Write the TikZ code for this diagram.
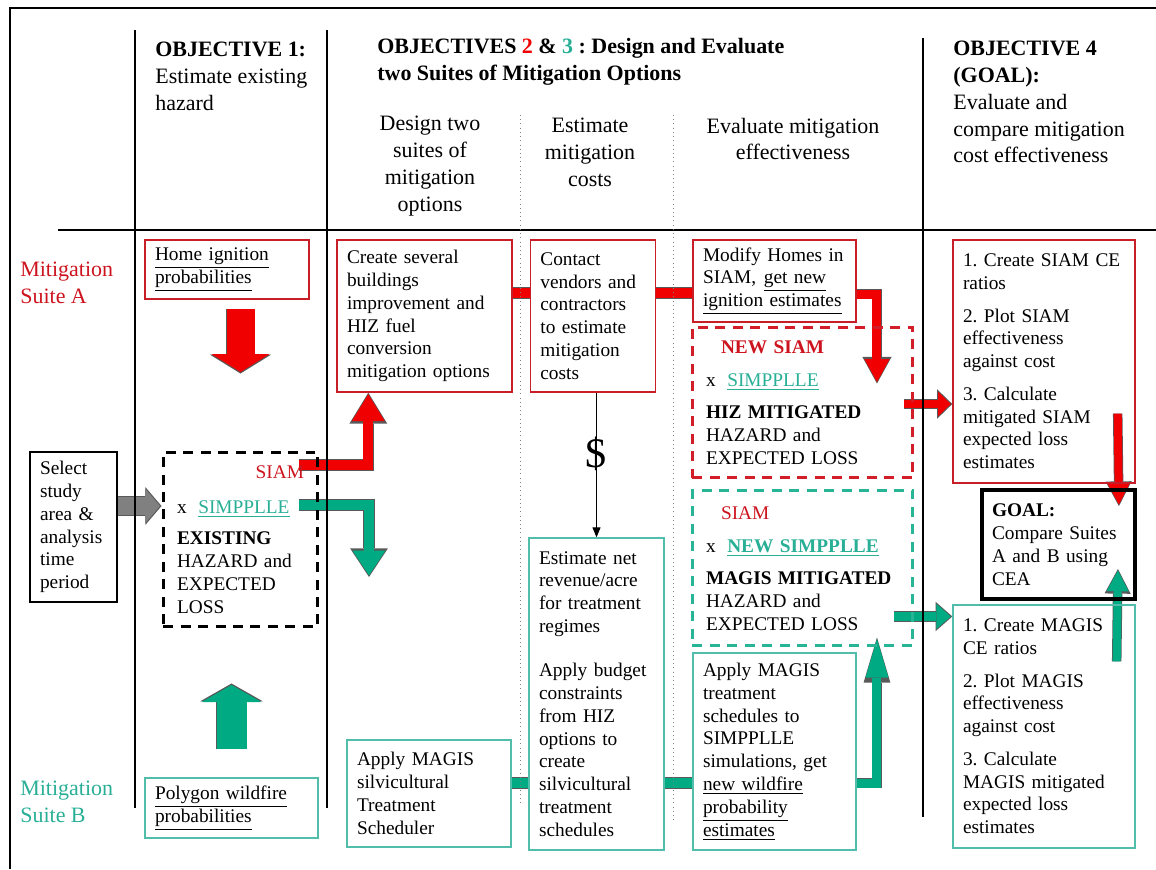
\documentclass[tikz,border=0pt]{standalone}
\usepackage{fontspec}
\setmainfont{Liberation Serif}
\usetikzlibrary{positioning, arrows.meta, calc, backgrounds}
\frenchspacing

\definecolor{redline}{RGB}{200,30,40}
\definecolor{redfill}{RGB}{240,0,0}
\definecolor{redtext}{RGB}{205,20,30}
\definecolor{tealline}{RGB}{80,190,170}
\definecolor{tealfill}{RGB}{0,170,130}
\definecolor{tealtext}{RGB}{40,175,150}
\definecolor{dashred}{RGB}{210,30,40}
\definecolor{dashteal}{RGB}{40,180,150}

\begin{document}
\begin{tikzpicture}[
  x=0.02cm, y=-0.02cm,
  cell/.style={draw, rectangle, inner xsep=0.2cm, inner ysep=0pt, align=left,
    font=\fontsize{11}{13}\selectfont},
  redcell/.style={cell, draw=redline, line width=0.8pt},
  tealcell/.style={cell, draw=tealline, line width=0.8pt},
  dashcell/.style={cell, line width=1.7pt, dash pattern=on 0.2cm off 0.15cm, inner xsep=0.28cm},
  headtext/.style={font=\fontsize{12.5}{15.3}\selectfont, align=left, inner sep=0pt},
  fat/.style n args={4}{draw=#1, line width=#2, shorten >=0.03cm,
    -{Triangle[width=0pt #3, length=0pt #4, line width=0pt]},
    preaction={draw=black!65, line width=#2+0.03cm, shorten >=0pt}},
  linkbar/.style={draw=#1, line width=0.2cm, preaction={draw=black!65, line width=0.23cm}}
]

\useasboundingbox (0,0) rectangle (1156,869);

\draw[line width=0.05cm] (10,869) -- (10,8) -- (1156,8);
\draw[line width=0.6pt] (58,230) -- (1156,230);
\draw[line width=0.6pt] (135,30) -- (135,808);
\draw[line width=0.6pt] (327,30) -- (327,808);
\draw[line width=0.6pt] (923,38) -- (923,817);
\draw[dotted, gray] (520,115) -- (520,805);
\draw[dotted, gray] (673,115) -- (673,823);

\node[headtext, anchor=west] (obj1) at (155,76)
  {\textbf{OBJECTIVE 1:}\\Estimate existing\\hazard};
\node[headtext, anchor=west] (obj23) at (377,62)
  {\textbf{OBJECTIVES \textcolor{redfill}{2} \& \textcolor{tealtext}{3} : Design and Evaluate}\\
   \textbf{two Suites of Mitigation Options}};
\node[headtext, align=center] (design) at (430,166) {Design two\\suites of\\mitigation\\options};
\node[headtext, align=center] (estcost) at (590,152) {Estimate\\mitigation\\costs};
\node[headtext, align=center] (evaleff) at (793,139) {Evaluate mitigation\\effectiveness};
\node[headtext, anchor=west] (obj4) at (953,102)
  {\textbf{OBJECTIVE 4}\\\textbf{(GOAL):}\\Evaluate and\\compare mitigation\\cost effectiveness};
\node[headtext, anchor=west, text=redtext] (suiteA) at (20,283) {Mitigation\\Suite A};
\node[headtext, anchor=west, text=tealtext] (suiteB) at (20,802) {Mitigation\\Suite B};

\node[redcell, text width=2.88cm, minimum height=1.18cm] (home) at (227,269.5)
  {\underline{Home ignition}\\\underline{probabilities}};
\node[tealcell, text width=3.06cm, minimum height=1.2cm] (poly) at (231.5,808)
  {\underline{Polygon wildfire}\\\underline{probabilities}};
\node[cell, line width=0.8pt, text width=1.34cm, minimum height=3cm] (select) at (73.5,527)
  {Select\\study\\area \&\\analysis\\time\\period};
\node[dashcell, text width=2.54cm, minimum height=3.5cm] (exist) at (240.5,539.5)
  {\hspace*{\fill}\textcolor{redtext}{SIAM}\hspace*{0.44cm}\\[7pt]
   x\hspace{0.6em}\textcolor{tealtext}{\underline{SIMPPLLE}}\\[5pt]
   \textbf{EXISTING}\\HAZARD and\\EXPECTED\\LOSS};

\node[redcell, text width=3.1cm, minimum height=3.04cm] (create) at (424.5,316)
  {Create several\\buildings\\improvement and\\HIZ fuel\\conversion\\mitigation options};
\node[redcell, text width=2.1cm, minimum height=3.04cm, right=0.34cm of create] (contact)
  {Contact\\vendors and\\contractors\\to estimate\\mitigation\\costs};
\node[redcell, text width=2.86cm, minimum height=1.64cm] (modify) at (774.5,281)
  {Modify Homes in\\SIAM,\hspace{0.4em}\underline{get new}\\\underline{ignition estimates}};
\node[dashcell, draw=dashred, text width=3.86cm, minimum height=3.02cm] (newsiam) at (802.5,402.5)
  {\hspace*{0.3cm}\textcolor{redtext}{\textbf{NEW SIAM}}\\[6pt]
   x\hspace{0.6em}\textcolor{tealtext}{\underline{SIMPPLLE}}\\[5pt]
   \textbf{HIZ MITIGATED}\\HAZARD and\\EXPECTED LOSS};
\node[dashcell, draw=dashteal, text width=3.86cm, minimum height=3.1cm, below=0.2cm of newsiam] (newsimp)
  {\hspace*{0.3cm}\textcolor{redtext}{SIAM}\\[6pt]
   x\hspace{0.6em}\textcolor{tealtext}{\textbf{\underline{NEW SIMPPLLE}}}\\[5pt]
   \textbf{MAGIS MITIGATED}\\HAZARD and\\EXPECTED LOSS};

\node[redcell, text width=3.24cm, minimum height=4.86cm] (ceA) at (1044,361.5)
  {1. Create SIAM CE\\ratios\\[5.5pt]2. Plot SIAM\\effectiveness\\against cost\\[5.5pt]
   3. Calculate\\mitigated SIAM\\expected loss\\estimates};
\node[cell, line width=2.2pt, text width=2.66cm, minimum height=2.18cm] (goal) at (1058.5,544.5)
  {\textbf{GOAL:}\\Compare Suites\\A and B using\\CEA};
\node[tealcell, text width=3.24cm, minimum height=4.86cm] (ceB) at (1044,726.5)
  {1. Create MAGIS\\CE ratios\\[5.5pt]2. Plot MAGIS\\effectiveness\\against cost\\[5.5pt]
   3. Calculate\\MAGIS mitigated\\expected loss\\estimates};

\node[tealcell, text width=2.86cm, minimum height=3.94cm] (applysim) at (774.5,751.5)
  {Apply MAGIS\\treatment\\schedules to\\SIMPPLLE\\simulations, get\\
   \underline{new wildfire}\\\underline{probability}\\\underline{estimates}};
\node[tealcell, text width=2.3cm, minimum height=6.24cm] (netrev) at (596.5,694)
  {Estimate net\\revenue/acre\\for treatment\\regimes\\[12pt]Apply budget\\constraints\\
   from HIZ\\options to\\create\\silvicultural\\treatment\\schedules};
\node[tealcell, text width=2.88cm, minimum height=2.14cm] (silvi) at (429,793.5)
  {Apply MAGIS\\silvicultural\\Treatment\\Scheduler};

\coordinate (tealdown) at (369,577);

\begin{scope}[on background layer]
\draw[fat={gray}{0.36cm}{1.94}{0.83}] ($(select.east)+(0,-21)$) -- ($(exist.west)+(0,-33.5)$);
\draw[fat={redfill}{0.56cm}{2.07}{0.64}] ($(home.south -| exist.north)+(0,9)$) -- ($(exist.north)+(0,-77)$);
\draw[fat={tealfill}{0.6cm}{2.0}{0.57}] ($(poly.north)+(0,-28)$) -- ($(poly.north |- exist.south)+(0,55)$);
\draw[fat={redfill}{0.2cm}{3.3}{2.7}] ($(exist.east)+(-20,-74.5)$) -| ($(create.south west)+(32,0)$);
\draw[fat={tealfill}{0.2cm}{3.3}{2.5}] ($(exist.east)+(-20,-34.5)$) -| (tealdown);

\draw[linkbar=redfill] ($(create.east)+(0,-23)$) -- ($(contact.west)+(0,-23)$);
\draw[linkbar=redfill] ($(contact.east)+(0,-23)$) -- ($(modify.west)+(0,12)$);
\draw[fat={redfill}{0.18cm}{2.8}{2.55}] ($(modify.east)+(0,13)$) -| ($(newsiam.north east)+(-37.5,58)$);
\draw[fat={redfill}{0.16cm}{3.1}{1.6}] ($(newsiam.east)+(-10,1.5)$) -- ($(ceA.west |- newsiam.east)+(0,1.5)$);
\draw[fat={redfill}{0.16cm}{2.75}{2.6}] ($(ceA.south east)+(-18,-70)$) -- ($(goal.north east)+(-18,18)$);

\draw[fat={tealfill}{0.18cm}{2.8}{1.6}] ($(newsimp.east)+(-20,48)$) -- ($(ceB.west |- newsimp.east)+(0,48)$);
\draw[fat={tealfill}{0.16cm}{2.75}{2.6}] ($(ceB.north east)+(-19,57)$) -- ($(goal.south east)+(-19,-32)$);
\draw[fat={tealfill}{0.18cm}{2.55}{4.3}] ($(applysim.east)+(0,31.5)$) -| ($(newsimp.south east)+(-37.5,-10)$);
\draw[linkbar=tealfill] ($(silvi.east)+(0,-10.5)$) -- ($(netrev.west |- silvi.east)+(0,-10.5)$);
\draw[linkbar=tealfill] ($(netrev.east |- silvi.east)+(0,-10.5)$) -- ($(applysim.west |- silvi.east)+(0,-10.5)$);

\draw[-{Triangle[length=0.2cm, width=0.16cm]}, line width=0.6pt] (contact.south -| netrev.north)
  -- node[pos=0.42, font=\fontsize{24}{24}\selectfont] {\$} (netrev.north);
\end{scope}

\end{tikzpicture}
\end{document}
